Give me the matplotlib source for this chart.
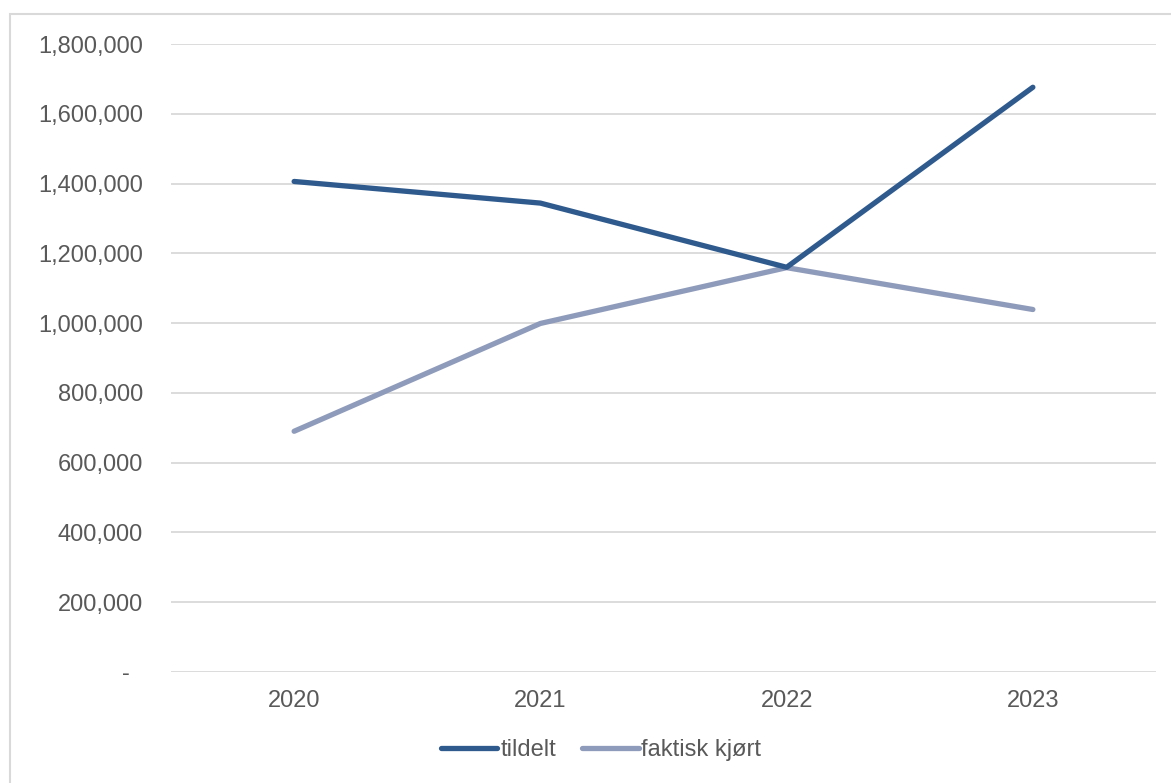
import matplotlib
matplotlib.use("Agg")
import matplotlib.pyplot as plt
from matplotlib.patches import Rectangle
from matplotlib.ticker import FuncFormatter, MultipleLocator

years = ["2020", "2021", "2022", "2023"]
tildelt = [1406000, 1344000, 1160000, 1676000]
faktisk_kjort = [690000, 999000, 1159000, 1039000]
series_labels = ["tildelt", "faktisk kjørt"]

plt.rcParams["font.family"] = ["Liberation Sans", "DejaVu Sans"]
text_color = "#595959"
grid_color = "#D9D9D9"
font_size = 17

fig = plt.figure(figsize=(11.71, 7.83), dpi=100)
fig.patch.set_facecolor("white")

# chart frame
fig.patches.append(Rectangle((10 / 1171, -0.01), 1.2, 1 - 14 / 783 + 0.01,
                             transform=fig.transFigure, fill=False,
                             edgecolor=grid_color, linewidth=1.5, zorder=0))

ax = fig.add_axes([171 / 1171, 1 - 672 / 783, (1156 - 171) / 1171, (672 - 44) / 783])
x = list(range(len(years)))
ax.plot(x, tildelt, color="#2E5A8E", linewidth=3.8, solid_capstyle="round",
        solid_joinstyle="round", label=series_labels[0], zorder=3)
ax.plot(x, faktisk_kjort, color="#8F9BBA", linewidth=3.8, solid_capstyle="round",
        solid_joinstyle="round", label=series_labels[1], zorder=2)

ax.set_xlim(-0.5, len(years) - 0.5)
ax.set_ylim(0, 1800000)
ax.yaxis.set_major_locator(MultipleLocator(200000))
ax.yaxis.set_major_formatter(FuncFormatter(lambda v, p: "-  " if v == 0 else f"{v:,.0f}"))
ax.set_xticks(x)
ax.set_xticklabels(years)

ax.grid(axis="y", color=grid_color, linewidth=1.3)
ax.set_axisbelow(True)
for s in ax.spines.values():
    s.set_visible(False)
ax.tick_params(axis="both", length=0, labelsize=font_size, colors=text_color)
ax.tick_params(axis="y", pad=20)
ax.tick_params(axis="x", pad=13)

leg = fig.legend(loc="center", bbox_to_anchor=(601 / 1171, 1 - 750 / 783), ncol=2,
                 frameon=False, fontsize=font_size, handlelength=2.4, handletextpad=0.12,
                 columnspacing=1.1)
for t in leg.get_texts():
    t.set_color(text_color)
for h in leg.get_lines():
    h.set_solid_capstyle("round")

fig.savefig("out.png", dpi=100, facecolor="white")
